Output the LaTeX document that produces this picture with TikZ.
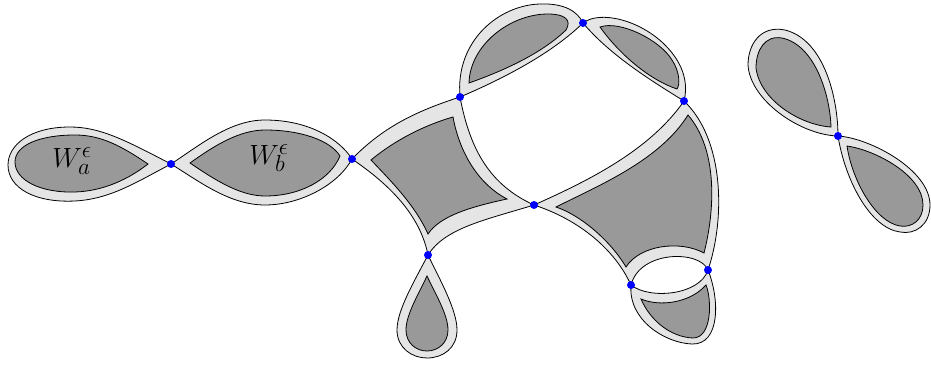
\documentclass[tikz,border=0pt]{standalone}
\usepackage{graphicx}
\begin{document}
\begin{tikzpicture}[x=1pt,y=-1pt,
  outerblob/.style={fill=black!10, draw=black, line width=0.8pt},
  innerblob/.style={fill=black!40, draw=black, line width=0.8pt},
  vdot/.style={circle, fill=blue, inner sep=0pt, minimum size=8pt},
  wlabel/.style={inner sep=0pt}]
\useasboundingbox (0,0) rectangle (931,364);
% junction points
\coordinate (P1) at (171,164);
\coordinate (P2) at (352,159);
\coordinate (P3) at (460,97);
\coordinate (P4) at (583,23);
\coordinate (P5) at (684,101);
\coordinate (P6) at (534,205);
\coordinate (P7) at (428,255);
\coordinate (P8) at (708,270);
\coordinate (P9) at (631,285);
\coordinate (P10) at (838,136);

% W_a
\draw[outerblob] (P1) .. controls (125,140) and (100,127) .. (70,127) .. controls (30,127) and (8,145) .. (8,165) .. controls (8,188) and (35,203) .. (75,201) .. controls (110,199) and (135,183) .. (P1) -- cycle;
\draw[innerblob] (148,164) .. controls (120,145) and (100,135) .. (75,135) .. controls (40,135) and (15,145) .. (15,162) .. controls (15,180) and (40,193) .. (75,192) .. controls (105,191) and (130,178) .. (148,164) -- cycle;

% W_b
\draw[outerblob] (P1) .. controls (200,145) and (230,120) .. (265,120) .. controls (310,120) and (340,140) .. (P2) .. controls (338,185) and (300,205) .. (265,205) .. controls (230,205) and (200,182) .. (P1) -- cycle;
\draw[innerblob] (190,163) .. controls (215,145) and (240,130) .. (265,130) .. controls (300,130) and (330,140) .. (340,156) .. controls (330,180) and (300,196) .. (265,196) .. controls (240,196) and (215,180) .. (190,163) -- cycle;

% quadrilateral
\draw[outerblob] (P2) .. controls (385,125) and (420,110) .. (P3) .. controls (470,150) and (490,185) .. (P6) .. controls (485,220) and (445,228) .. (P7) .. controls (420,215) and (390,185) .. (P2) -- cycle;
\draw[innerblob] (371,160) .. controls (395,140) and (425,125) .. (453,117) .. controls (460,155) and (480,185) .. (507,199) .. controls (470,207) and (440,216) .. (428,234) .. controls (415,205) and (390,180) .. (371,160) -- cycle;

% top-left loop
\draw[outerblob] (P3) .. controls (455,40) and (500,5) .. (540,4) .. controls (565,3) and (578,12) .. (P4) .. controls (550,55) and (500,80) .. (P3) -- cycle;
\draw[innerblob] (469,83) .. controls (470,45) and (510,14) .. (548,14) .. controls (565,14) and (572,20) .. (566,30) .. controls (540,55) and (500,72) .. (469,83) -- cycle;

% top-right loop
\draw[outerblob] (P4) .. controls (600,10) and (640,20) .. (665,45) .. controls (685,65) and (688,85) .. (P5) .. controls (650,80) and (610,55) .. (P4) -- cycle;
\draw[innerblob] (600,27) .. controls (620,20) and (660,40) .. (672,60) .. controls (680,72) and (680,85) .. (677,89) .. controls (650,80) and (620,55) .. (600,27) -- cycle;

% big right shape
\draw[outerblob] (P6) .. controls (590,180) and (650,150) .. (P5) .. controls (725,140) and (725,220) .. (P8) .. controls (700,250) and (640,250) .. (P9) .. controls (615,250) and (580,220) .. (P6) -- cycle;
\draw[innerblob] (556,207) .. controls (600,185) and (660,160) .. (688,115) .. controls (718,150) and (715,210) .. (704,253) .. controls (680,240) and (640,245) .. (626,267) .. controls (610,240) and (580,215) .. (556,207) -- cycle;

% lower loop
\draw[outerblob] (P9) .. controls (628,320) and (665,343) .. (692,344) .. controls (720,345) and (720,300) .. (P8) .. controls (700,295) and (650,300) .. (P9) -- cycle;
\draw[innerblob] (641,299) .. controls (650,320) and (670,337) .. (693,338) .. controls (712,338) and (712,300) .. (706,285) .. controls (690,303) and (660,307) .. (641,299) -- cycle;

% bottom teardrop
\draw[outerblob] (P7) .. controls (415,280) and (397,310) .. (397,330) .. controls (397,348) and (412,358) .. (427,358) .. controls (443,358) and (457,348) .. (457,330) .. controls (457,310) and (440,280) .. (P7) -- cycle;
\draw[innerblob] (427,276) .. controls (418,295) and (406,315) .. (406,330) .. controls (406,343) and (416,351) .. (427,351) .. controls (438,351) and (448,343) .. (448,330) .. controls (448,315) and (436,295) .. (427,276) -- cycle;

% right figure-eight
\draw[outerblob] (P10) .. controls (838,100) and (825,40) .. (785,30) .. controls (760,25) and (748,45) .. (748,65) .. controls (750,100) and (800,135) .. (P10) -- cycle;
\draw[innerblob] (831,127) .. controls (830,95) and (815,45) .. (782,38) .. controls (765,35) and (756,50) .. (756,68) .. controls (760,100) and (800,125) .. (831,127) -- cycle;
\draw[outerblob] (P10) .. controls (870,138) and (930,170) .. (930,205) .. controls (930,225) and (915,235) .. (900,232) .. controls (870,228) and (845,180) .. (P10) -- cycle;
\draw[innerblob] (847,146) .. controls (875,150) and (923,175) .. (923,205) .. controls (923,220) and (912,228) .. (900,226) .. controls (875,222) and (852,180) .. (847,146) -- cycle;

% labels
\node[wlabel] (La) at (72,161) {\scalebox{1.12}{\Huge $W_a^\epsilon$}};
\node[wlabel] (Lb) at (269,158) {\scalebox{1.12}{\Huge $W_b^\epsilon$}};

% blue dots
\foreach \p in {P1,P2,P3,P4,P5,P6,P7,P8,P9,P10}
  \node[vdot] (d\p) at (\p) {};
\end{tikzpicture}
\end{document}
